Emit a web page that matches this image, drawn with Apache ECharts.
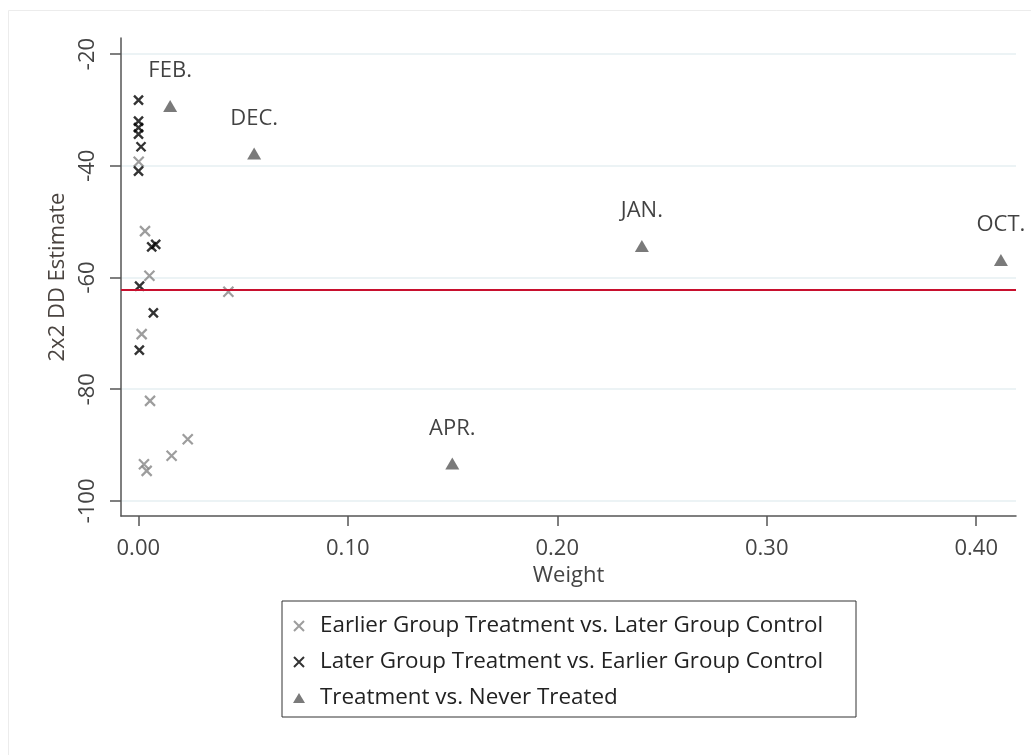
<!DOCTYPE html>
<html><head><meta charset="utf-8">
<script src="https://cdn.jsdelivr.net/npm/echarts@6/dist/echarts.min.js"></script>
<style>html,body{margin:0;padding:0;background:#fff}#c{width:1031px;height:755px}</style>
</head><body><div id="c"></div>
<script>
// ---- data ----
const seriesNames = [
  'Earlier Group Treatment vs. Later Group Control',
  'Later Group Treatment vs. Earlier Group Control',
  'Treatment vs. Never Treated'
];
const earlierWeight   = [0.0032, 0.0053, 0.0016, 0.0430, 0.0002, 0.0056, 0.0236, 0.0159, 0.0027, 0.0040];
const earlierEstimate = [-51.70, -59.70, -70.14, -62.57, -39.29, -82.09, -88.95, -91.93, -93.42, -94.62];
const laterWeight     = [0.0001, 0.0001, 0.0001, 0.0001, 0.0013, 0.0001, 0.0064, 0.0083, 0.0006, 0.0072, 0.0005];
const laterEstimate   = [-28.24, -32.00, -33.16, -34.33, -36.60, -40.95, -54.51, -54.08, -61.55, -66.33, -73.00];
const neverLabels     = ['FEB.', 'DEC.', 'JAN.', 'OCT.', 'APR.'];
const neverWeight     = [0.0152, 0.0553, 0.2404, 0.4118, 0.1499];
const neverEstimate   = [-29.31, -37.79, -54.38, -56.89, -93.30];
const overallEstimate = -62.26;
const xTicks = [0, 0.1, 0.2, 0.3, 0.4];
const yTicks = [-100, -80, -60, -40, -20];

// ---- chart ----
const FONT = '"Open Sans", "Noto Sans", sans-serif';
const crossPath = 'path://M0,0L10,10M10,0L0,10';
const zip = (xs, ys) => xs.map((x, i) => [x, ys[i]]);

const chart = echarts.init(document.getElementById('c'), null, {renderer: 'canvas'});
chart.setOption({
  animation: false,
  backgroundColor: '#ffffff',
  textStyle: {fontFamily: FONT},
  graphic: [{
    type: 'rect', silent: true, z: -10,
    shape: {x: 8.5, y: 10.5, width: 1100, height: 800},
    style: {fill: 'none', stroke: '#ececec', lineWidth: 1}
  }],
  grid: {left: 121, right: 15, top: 38, bottom: 239, containLabel: false},
  xAxis: {
    type: 'value', min: -0.00826, max: 0.419,
    name: 'Weight', nameLocation: 'middle', nameGap: 40,
    nameTextStyle: {fontFamily: FONT, fontSize: 22, color: '#444'},
    axisLine: {show: true, onZero: false, lineStyle: {color: '#555', width: 1.5}},
    axisTick: {show: true, length: 10, customValues: xTicks, lineStyle: {color: '#555', width: 1.5}},
    axisLabel: {customValues: xTicks, margin: 22, fontFamily: FONT, fontSize: 22, color: '#444',
      formatter: v => v.toFixed(2)},
    splitLine: {show: false}
  },
  yAxis: {
    type: 'value', min: -102.7, max: -17.13,
    name: '2x2 DD Estimate', nameLocation: 'middle', nameGap: 52,
    nameTextStyle: {fontFamily: FONT, fontSize: 22, color: '#4a4440'},
    axisLine: {show: true, onZero: false, lineStyle: {color: '#555', width: 1.5}},
    axisTick: {show: true, length: 11, customValues: yTicks, lineStyle: {color: '#555', width: 1.5}},
    axisLabel: {customValues: yTicks, rotate: 90, margin: 22, fontFamily: FONT, fontSize: 22, color: '#444'},
    splitLine: {show: true, lineStyle: {color: '#e6eff2', width: 1.5}}
  },
  legend: {
    orient: 'vertical', left: 282, top: 601,
    padding: [13, 6, 7, 11],
    itemWidth: 12, itemHeight: 10, itemGap: 12,
    symbolKeepAspect: true,
    borderColor: '#333', borderWidth: 1, borderRadius: 0,
    textStyle: {fontFamily: FONT, fontSize: 22.4, color: '#222', lineHeight: 24, width: 530, padding: [0, 0, 0, 10]},
    data: seriesNames
  },
  series: [
    {
      name: seriesNames[0], type: 'scatter',
      symbol: crossPath, symbolSize: 10,
      itemStyle: {color: 'rgba(0,0,0,0)', borderColor: '#858585', borderWidth: 2.2},
      data: zip(earlierWeight, earlierEstimate),
      markLine: {
        silent: true, symbol: 'none', label: {show: false},
        lineStyle: {color: '#c8102e', width: 2, type: 'solid'},
        data: [{yAxis: overallEstimate}]
      },
      z: 3
    },
    {
      name: seriesNames[1], type: 'scatter',
      symbol: crossPath, symbolSize: 9,
      itemStyle: {color: 'rgba(0,0,0,0)', borderColor: '#000', borderWidth: 2.4},
      data: zip(laterWeight, laterEstimate),
      z: 4
    },
    {
      name: seriesNames[2], type: 'scatter',
      symbol: 'triangle', symbolSize: [14, 12],
      itemStyle: {color: '#595959'},
      label: {show: true, position: 'top', distance: 18, formatter: '{b}',
        fontFamily: FONT, fontSize: 22, color: '#111'},
      data: neverWeight.map((w, i) => ({name: neverLabels[i], value: [w, neverEstimate[i]]})),
      z: 5
    }
  ]
});
</script>
</body></html>
